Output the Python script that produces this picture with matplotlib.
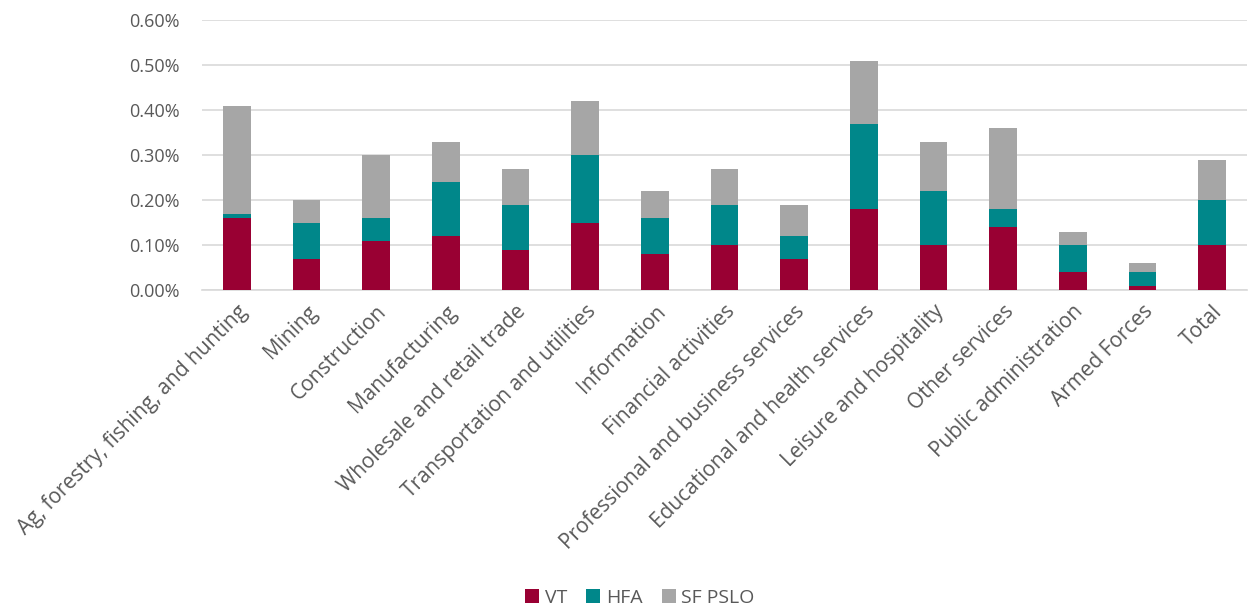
import matplotlib
matplotlib.use('Agg')
import matplotlib.pyplot as plt
from matplotlib.ticker import FuncFormatter

plt.rcParams['font.family'] = ['Open Sans', 'DejaVu Sans']

categories = ['Ag, forestry, fishing, and hunting', 'Mining', 'Construction',
              'Manufacturing', 'Wholesale and retail trade',
              'Transportation and utilities', 'Information',
              'Financial activities', 'Professional and business services',
              'Educational and health services', 'Leisure and hospitality',
              'Other services', 'Public administration', 'Armed Forces', 'Total']
# values in percent
vt = [0.16, 0.07, 0.11, 0.12, 0.09, 0.15, 0.08, 0.10, 0.07, 0.18, 0.10, 0.14, 0.04, 0.01, 0.10]
hfa = [0.01, 0.08, 0.05, 0.12, 0.10, 0.15, 0.08, 0.09, 0.05, 0.19, 0.12, 0.04, 0.06, 0.03, 0.10]
sf_pslo = [0.24, 0.05, 0.14, 0.09, 0.08, 0.12, 0.06, 0.08, 0.07, 0.14, 0.11, 0.18, 0.03, 0.02, 0.09]

c_vt = '#990033'
c_hfa = '#00878A'
c_sf = '#A6A6A6'
txt = '#595959'

fig = plt.figure(figsize=(12.5, 6.12), dpi=100)
ax = fig.add_axes([0.1616, 0.526, 0.836, 0.441])

x = range(len(categories))
w = 0.4
ax.bar(x, vt, w, color=c_vt, label='VT', zorder=3)
bot = [a for a in vt]
ax.bar(x, hfa, w, bottom=bot, color=c_hfa, label='HFA', zorder=3)
bot = [a + b for a, b in zip(vt, hfa)]
ax.bar(x, sf_pslo, w, bottom=bot, color=c_sf, label='SF PSLO', zorder=3)

ax.set_ylim(0, 0.6)
ax.set_xlim(-0.5, len(categories) - 0.5)
ax.set_yticks([0, 0.1, 0.2, 0.3, 0.4, 0.5, 0.6])
ax.yaxis.set_major_formatter(FuncFormatter(lambda v, p: '%.2f%%' % v))
ax.yaxis.grid(True, color='#D9D9D9', linewidth=1.2, zorder=0)
for s in ['top', 'right', 'left']:
    ax.spines[s].set_visible(False)
ax.spines['bottom'].set_color('#D9D9D9')
ax.spines['bottom'].set_linewidth(1.2)
ax.tick_params(axis='both', length=0, colors=txt)
ax.tick_params(axis='y', labelsize=13, pad=16)
ax.tick_params(axis='x', labelsize=15, pad=8)
ax.set_xticks(list(x))
ax.set_xticklabels(categories, rotation=45, ha='right', rotation_mode='anchor')

fig.legend(loc='lower center', ncol=3, frameon=False, fontsize=14,
           bbox_to_anchor=(0.512, -0.02), handlelength=0.7, handleheight=0.7,
           handletextpad=0.3, columnspacing=1.0, labelcolor=txt)

fig.savefig('out.png', dpi=100)
